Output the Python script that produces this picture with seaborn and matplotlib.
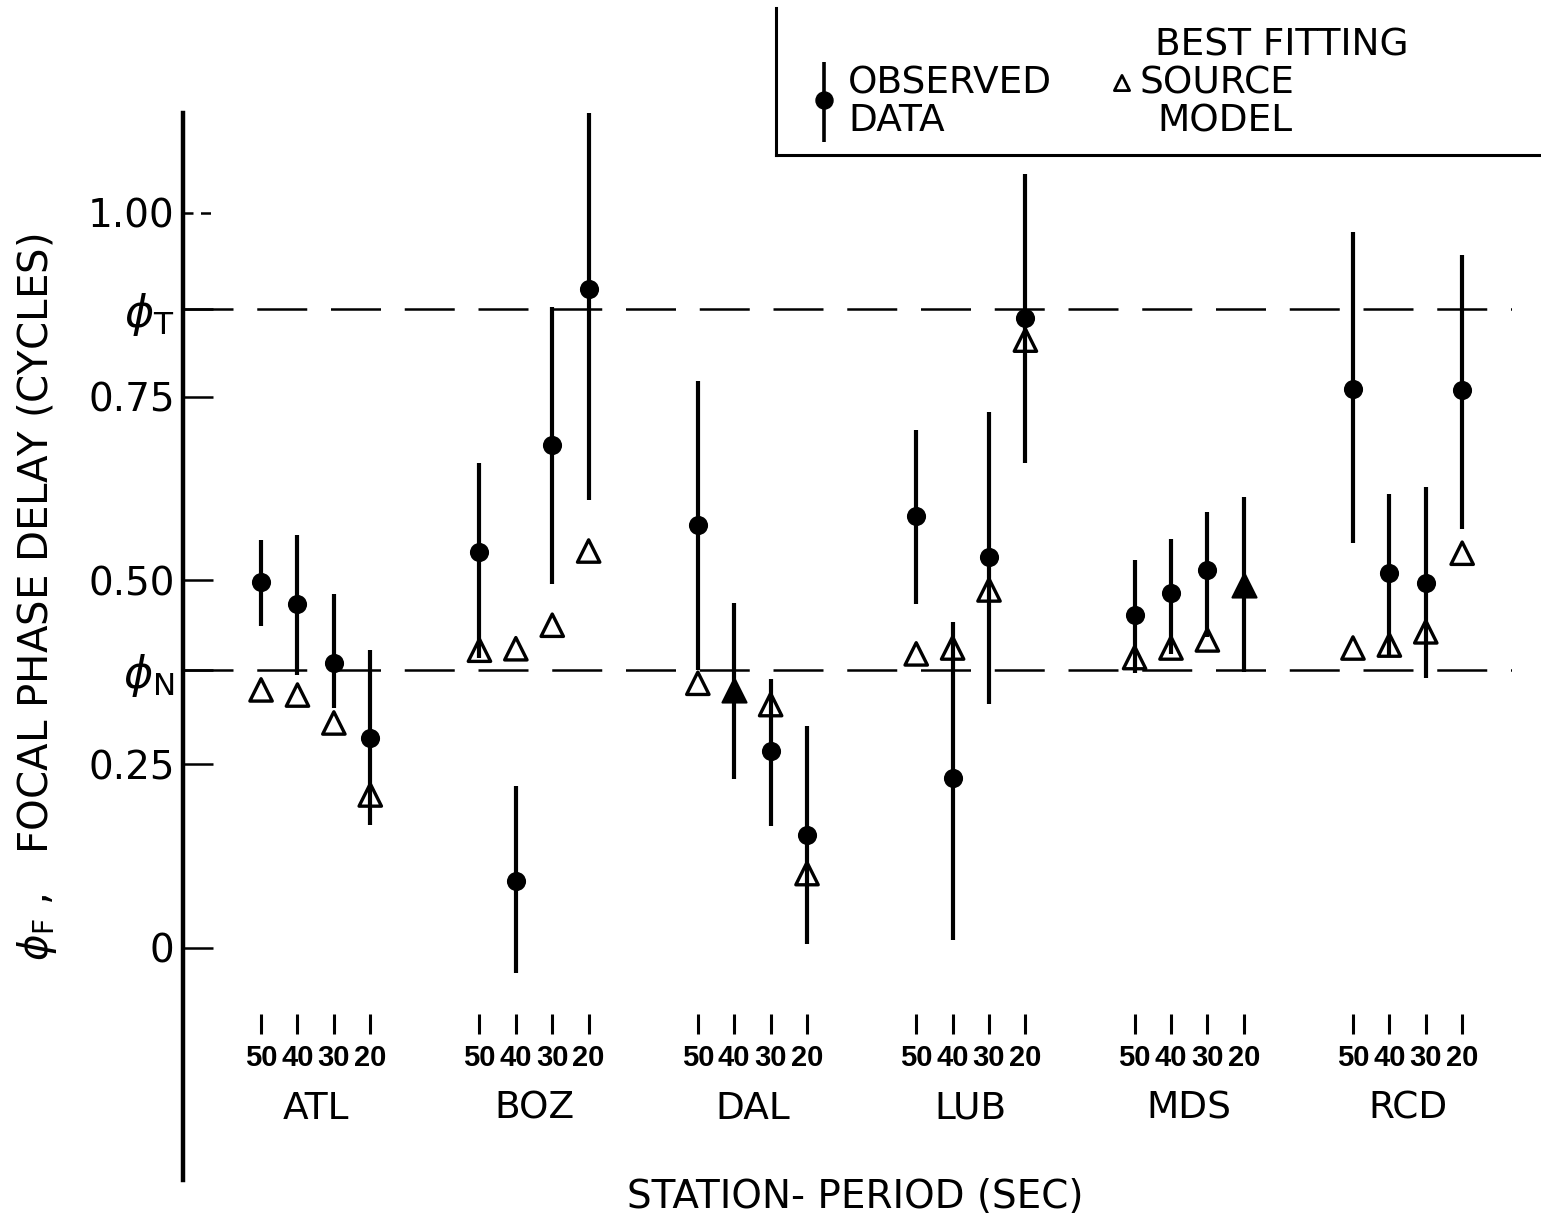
import matplotlib
matplotlib.use("Agg")
import matplotlib.pyplot as plt
from matplotlib import font_manager
import numpy as np
import pandas as pd
import seaborn as sns

# ---- data -------------------------------------------------------------
stations = ["ATL", "BOZ", "DAL", "LUB", "MDS", "RCD"]
periods = [50, 40, 30, 20]

observed = [
    [0.498, 0.468, 0.388, 0.286],   # ATL
    [0.539, 0.091, 0.684, 0.897],   # BOZ
    [0.575, 0.351, 0.268, 0.154],   # DAL
    [0.588, 0.231, 0.532, 0.857],   # LUB
    [0.453, 0.483, 0.514, 0.494],   # MDS
    [0.761, 0.510, 0.497, 0.759],   # RCD
]
upper = [
    [0.555, 0.562, 0.482, 0.405],
    [0.660, 0.220, 0.872, 1.180],
    [0.771, 0.469, 0.366, 0.302],
    [0.705, 0.444, 0.729, 1.053],
    [0.528, 0.556, 0.593, 0.614],
    [0.974, 0.618, 0.627, 0.943],
]
lower = [
    [0.438, 0.371, 0.327, 0.167],
    [0.394, -0.034, 0.495, 0.609],
    [0.378, 0.230, 0.166, 0.005],
    [0.468, 0.010, 0.332, 0.660],
    [0.374, 0.400, 0.423, 0.376],
    [0.551, 0.399, 0.367, 0.570],
]
model = [
    [0.351, 0.344, 0.306, 0.208],
    [0.405, 0.407, 0.439, 0.540],
    [0.360, 0.351, 0.331, 0.101],
    [0.400, 0.408, 0.487, 0.827],
    [0.395, 0.408, 0.419, 0.494],
    [0.408, 0.412, 0.430, 0.537],
]
# observed value coincides with the model value (drawn as a filled triangle)
coincident = [
    [False, False, False, False],
    [False, False, False, False],
    [False, True, False, False],
    [False, False, False, False],
    [False, False, False, True],
    [False, False, False, False],
]
phi_T = 0.869
phi_N = 0.378

yticks = [0.0, 0.25, phi_N, 0.50, 0.75, phi_T, 1.00]
ytick_labels = ["0", "0.25", r"$\phi_{\rm N}$", "0.50", "0.75", r"$\phi_{\rm T}$", "1.00"]

GROUP_STRIDE = 6

rows = []
for gi, st in enumerate(stations):
    for k, p in enumerate(periods):
        rows.append(dict(station=st, period=p, pos=gi * GROUP_STRIDE + k,
                         obs=observed[gi][k], lo=lower[gi][k], hi=upper[gi][k],
                         model=model[gi][k], coincide=coincident[gi][k]))
df = pd.DataFrame(rows)

# ---- style ------------------------------------------------------------
sns.set_theme(style="white")
plt.rcParams["font.family"] = ["DejaVu Sans"]
plt.rcParams["mathtext.fontset"] = "dejavusans"
plt.rcParams["text.color"] = "black"
plt.rcParams["axes.labelcolor"] = "black"

available = {f.name for f in font_manager.fontManager.ttflist}
if "Liberation Sans Narrow" in available:
    period_font = dict(family="Liberation Sans Narrow", weight="bold", size=25)
elif "DejaVu Sans Condensed" in available:
    period_font = dict(family="DejaVu Sans Condensed", weight="bold", size=20)
else:
    period_font = dict(family="Liberation Sans", weight="bold", size=21)

fig = plt.figure(figsize=(15.41, 12.17), dpi=100)
ax = fig.add_axes([0.1188, 0.0304, 0.8624, 0.8767])
ax.set_xlim(-2.143, 34.37)
ax.set_ylim(-0.316, 1.136)

# reference phase levels
dash = (0, (20, 9.5))
for lvl in (phi_T, phi_N):
    ax.axhline(lvl, color="black", lw=1.8, ls=dash, zorder=1)

# error bars
ax.vlines(df["pos"], df["lo"], df["hi"], color="black", lw=3.0, zorder=2)

# best fitting source model
sns.scatterplot(data=df[~df["coincide"]], x="pos", y="model", marker="^", s=260,
                fc="none", ec="black", linewidth=2.4, ax=ax, legend=False, zorder=3)
sns.scatterplot(data=df[df["coincide"]], x="pos", y="model", marker="^", s=300,
                color="black", ec="black", linewidth=1.5, ax=ax, legend=False, zorder=4)
# observed data
sns.scatterplot(data=df[~df["coincide"]], x="pos", y="obs", marker="o", s=190,
                color="black", ec="black", linewidth=0, ax=ax, legend=False, zorder=5)

# ---- axes -------------------------------------------------------------
for side in ("top", "right"):
    ax.spines[side].set_visible(False)
ax.spines["bottom"].set_position(("data", -0.0905))
ax.spines["bottom"].set_visible(False)
ax.spines["left"].set_linewidth(3.2)
ax.spines["left"].set_color("black")

ax.set_yticks(yticks)
ax.set_yticklabels(ytick_labels)
ax.yaxis.set_ticks_position("left")
ax.tick_params(axis="y", direction="in", length=21.6, width=1.8, pad=6,
               labelsize=28, colors="black")
for lab, txt in zip(ax.get_yticklabels(), ytick_labels):
    if txt.startswith("$"):
        lab.set_fontsize(32)
# the 1.00 tick is drawn as a short broken line
top_tick = ax.yaxis.get_major_ticks()[-1]
top_tick.tick1line.set_visible(False)
ax.plot([0.0, 0.023], [1.0, 1.0], transform=ax.get_yaxis_transform(),
        color="black", lw=1.8, ls=(0, (4, 3)), clip_on=False)

ax.set_xticks(df["pos"])
ax.set_xticklabels([str(p) for p in df["period"]], fontdict=period_font)
ax.xaxis.set_ticks_position("bottom")
ax.tick_params(axis="x", direction="out", length=14.4, width=2.2, pad=7, colors="black")

for gi, st in enumerate(stations):
    ax.text(gi * GROUP_STRIDE + 1.5, -0.219, st, ha="center", va="center",
            fontsize=27, color="black")

ax.set_xlabel("")
ax.set_ylabel(r"$\phi_{\rm F}$ ,   FOCAL PHASE DELAY (CYCLES)", fontsize=29, color="black")
ax.yaxis.set_label_coords(-0.093, 0.546)

fig.text(0.555, 0.0164, "STATION- PERIOD (SEC)", ha="center", va="center",
         fontsize=28, color="black")

# ---- key box ----------------------------------------------------------
lax = fig.add_axes([776 / 1541, (1217 - 155) / 1217, (1541 - 776) / 1541, (155 - 8) / 1217])
lax.set_xlim(0, 765)
lax.set_ylim(147, 0)
lax.patch.set_alpha(0)
for side in ("top", "right"):
    lax.spines[side].set_visible(False)
for side in ("left", "bottom"):
    lax.spines[side].set_linewidth(2.2)
    lax.spines[side].set_color("black")
lax.set_xticks([])
lax.set_yticks([])

lax.vlines([48], [54], [134], color="black", lw=2.6)
lax.scatter([48], [92], marker="o", s=150, color="black", zorder=3)
lax.scatter([346], [75], marker="^", s=120, fc="none", ec="black", linewidths=2.0)
key_kw = dict(fontsize=27, va="center", ha="left", color="black")
lax.text(72, 75, "OBSERVED", **key_kw)
lax.text(72, 113, "DATA", **key_kw)
lax.text(379, 37, "BEST FITTING", **key_kw)
lax.text(364, 75, "SOURCE", **key_kw)
lax.text(381, 113, "MODEL", **key_kw)

fig.savefig("out.png", dpi=100, facecolor="white")
